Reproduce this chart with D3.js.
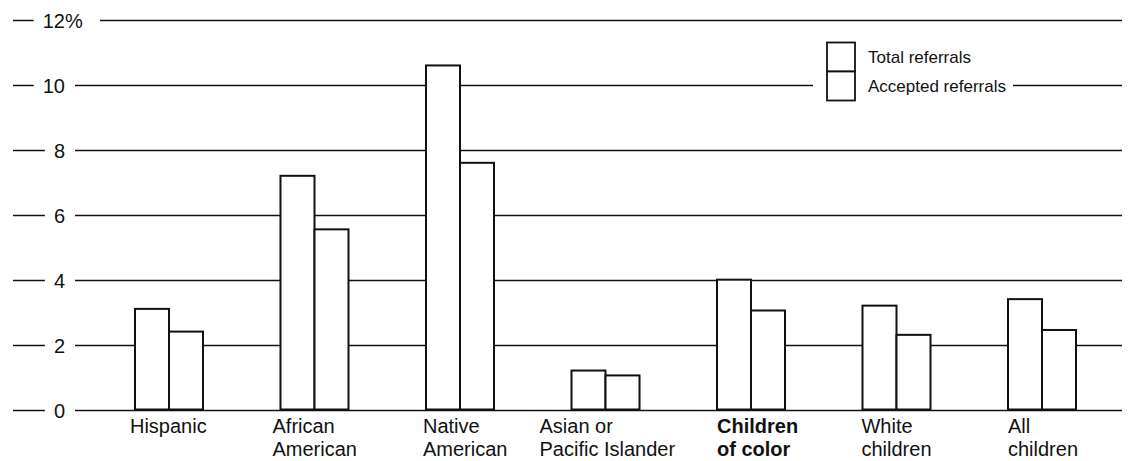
<!DOCTYPE html>
<html>
<head>
<meta charset="utf-8">
<script src="https://cdn.jsdelivr.net/npm/d3@7"></script>
<style>
  html, body { margin: 0; padding: 0; background: #fff; }
  svg { display: block; font-family: "Liberation Sans", Arial, Helvetica, sans-serif; }
</style>
</head>
<body>
<svg id="chart" width="1136" height="461"></svg>
<script>
// ---- data ----
const categories = ["Hispanic", "African American", "Native American", "Asian or Pacific Islander", "Children of color", "White children", "All children"];
const categoryLines = [["Hispanic"], ["African", "American"], ["Native", "American"], ["Asian or", "Pacific Islander"], ["Children", "of color"], ["White", "children"], ["All", "children"]];
const totalReferrals = [3.1, 7.2, 10.6, 1.2, 4.0, 3.2, 3.4];
const acceptedReferrals = [2.4, 5.55, 7.6, 1.05, 3.05, 2.3, 2.45];
const seriesNames = ["Total referrals", "Accepted referrals"];
const yTicks = [0, 2, 4, 6, 8, 10, 12];

// ---- layout (not data) ----
const labelShift = [-5, -8, -3, -32, 0, -1, 0];
const boldIndex = 4;

const svg = d3.select("#chart");
const W = 1136;

const y = d3.scaleLinear().domain([0, 12]).range([409.5, 20]);
const x = d3.scaleBand().domain(categories).range([100, 1111]).paddingInner(0.5326).paddingOuter(0.2405);
const xs = d3.scaleBand().domain(seriesNames).range([0, x.bandwidth()]);

const gridEnd = 1122;

// tick labels, stubs and gridlines
const tickG = svg.append("g");
yTicks.forEach(t => {
  const yy = Math.round(y(t)) + 0.5;
  const lab = tickG.append("text")
    .attr("x", 65).attr("y", yy).attr("text-anchor", "end")
    .attr("dominant-baseline", "central")
    .attr("font-size", 20).attr("fill", "#111")
    .text(t);
  const bb = lab.node().getBBox();
  let right = bb.x + bb.width;
  if (t === 12) {
    const pc = tickG.append("text")
      .attr("x", 65).attr("y", yy)
      .attr("dominant-baseline", "central")
      .attr("font-size", 20).attr("fill", "#111").text("%");
    const pb = pc.node().getBBox();
    right = pb.x + pb.width;
  }
  tickG.append("line")
    .attr("x1", 13).attr("x2", bb.x - 9)
    .attr("y1", yy).attr("y2", yy)
    .attr("stroke", "#111").attr("stroke-width", 1.5);
  tickG.append("line")
    .attr("x1", right + (t === 12 ? 17 : 10)).attr("x2", gridEnd)
    .attr("y1", yy).attr("y2", yy)
    .attr("stroke", "#111").attr("stroke-width", 1.5);
});

// bars
const rows = categories.map((c, i) => ({ cat: c, values: [
  { key: seriesNames[0], v: totalReferrals[i] },
  { key: seriesNames[1], v: acceptedReferrals[i] }
]}));

const groups = svg.append("g").selectAll("g").data(rows).join("g")
  .attr("transform", d => `translate(${x(d.cat)},0)`);
groups.selectAll("rect").data(d => d.values).join("rect")
  .attr("x", d => xs(d.key))
  .attr("y", d => y(d.v))
  .attr("width", xs.bandwidth())
  .attr("height", d => y(0) - y(d.v))
  .attr("fill", "#fff")
  .attr("stroke", "#111")
  .attr("stroke-width", 2);

// category labels
const labG = svg.append("g");
rows.forEach((d, i) => {
  const t = labG.append("text")
    .attr("x", x(d.cat) + labelShift[i])
    .attr("y", 433)
    .attr("font-size", 20)
    .attr("font-weight", i === boldIndex ? "bold" : "normal")
    .attr("fill", "#111");
  categoryLines[i].forEach((ln, k) => {
    t.append("tspan").attr("x", x(d.cat) + labelShift[i]).attr("y", 433 + k * 23).text(ln);
  });
});

// legend
const leg = svg.append("g");
leg.append("rect").attr("x", 813).attr("y", 34).attr("width", 200).attr("height", 72).attr("fill", "#fff");
seriesNames.forEach((s, i) => {
  leg.append("rect")
    .attr("x", 827).attr("y", 42.5 + i * 29)
    .attr("width", 28).attr("height", 29)
    .attr("fill", "#fff").attr("stroke", "#111").attr("stroke-width", 1.8);
  leg.append("text")
    .attr("x", 868).attr("y", 63 + i * 29)
    .attr("font-size", 17).attr("fill", "#111")
    .text(s);
});
</script>
</body>
</html>
